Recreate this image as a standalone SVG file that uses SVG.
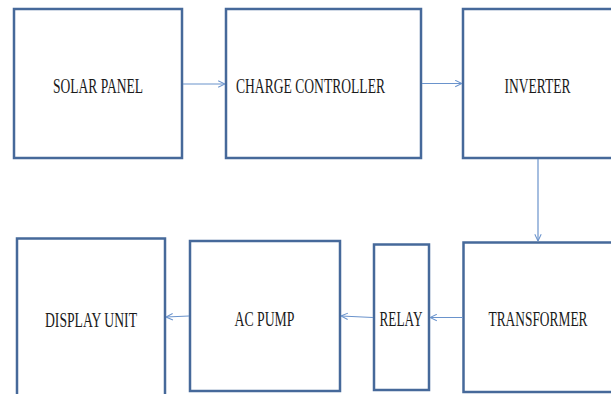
<svg xmlns="http://www.w3.org/2000/svg" width="611" height="394" viewBox="0 0 611 394">
  <style>
    .box { fill: #ffffff; stroke: #46699a; stroke-width: 2.5; }
    .lbl { font-family: "Liberation Serif", "Times New Roman", serif; font-size: 20px; fill: #1a1a1a; }
    .wire { fill: none; stroke: #6a93cc; stroke-width: 1.2; }
  </style>
  <defs>
    <marker id="head" viewBox="0 0 10 10" refX="9.5" refY="5" markerWidth="8" markerHeight="8" markerUnits="userSpaceOnUse" orient="auto">
      <path d="M1,1 L9.5,5 L1,9" fill="none" stroke="#6a93cc" stroke-width="1.3"/>
    </marker>
  </defs>

  <rect width="611" height="394" fill="#ffffff"/>

  <g id="solar-panel">
    <rect class="box" x="14" y="9" width="168" height="149"/>
    <text class="lbl" x="53" y="93" textLength="90" lengthAdjust="spacingAndGlyphs">SOLAR PANEL</text>
  </g>
  <g id="charge-controller">
    <rect class="box" x="226" y="9" width="195" height="149"/>
    <text class="lbl" x="236" y="93" textLength="149" lengthAdjust="spacingAndGlyphs">CHARGE CONTROLLER</text>
  </g>
  <g id="inverter">
    <rect class="box" x="463" y="9" width="160" height="149"/>
    <text class="lbl" x="504.5" y="92.5" textLength="66" lengthAdjust="spacingAndGlyphs">INVERTER</text>
  </g>
  <g id="transformer">
    <rect class="box" x="463.5" y="242.5" width="160" height="149.5"/>
    <text class="lbl" x="488.5" y="326" textLength="99" lengthAdjust="spacingAndGlyphs">TRANSFORMER</text>
  </g>
  <g id="relay">
    <rect class="box" x="374" y="244.5" width="55" height="145.5"/>
    <text class="lbl" x="379.5" y="326" textLength="43" lengthAdjust="spacingAndGlyphs">RELAY</text>
  </g>
  <g id="ac-pump">
    <rect class="box" x="190" y="241" width="150" height="150"/>
    <text class="lbl" x="234.5" y="325.5" textLength="60" lengthAdjust="spacingAndGlyphs">AC PUMP</text>
  </g>
  <g id="display-unit">
    <rect class="box" x="17" y="238.5" width="148" height="170"/>
    <text class="lbl" x="45" y="326.5" textLength="92" lengthAdjust="spacingAndGlyphs">DISPLAY UNIT</text>
  </g>

  <g id="connectors">
    <line class="wire" x1="183" y1="84" x2="225" y2="84" marker-end="url(#head)"/>
    <line class="wire" x1="422" y1="83.5" x2="462" y2="83.5" marker-end="url(#head)"/>
    <line class="wire" x1="538" y1="159" x2="538" y2="241" marker-end="url(#head)"/>
    <line class="wire" x1="463" y1="317.5" x2="430" y2="317.5" marker-end="url(#head)"/>
    <line class="wire" x1="373" y1="317.5" x2="341" y2="316" marker-end="url(#head)"/>
    <line class="wire" x1="189" y1="316" x2="166" y2="317" marker-end="url(#head)"/>
  </g>
</svg>
